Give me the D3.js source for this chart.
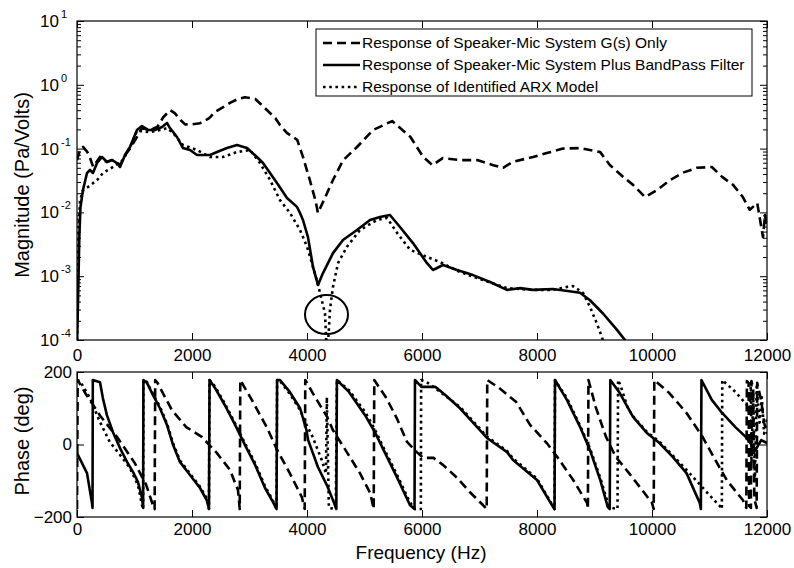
<!DOCTYPE html>
<html><head><meta charset="utf-8">
<script src="https://cdn.jsdelivr.net/npm/d3@7"></script>
<style>
body{margin:0;background:#fff}
text{font-family:"Liberation Sans",Arial,Helvetica,sans-serif;fill:#000}
</style>
</head><body>
<svg id="c" width="794" height="568"></svg>
<script>
// ---------- data ----------
const xTicks = [0, 2000, 4000, 6000, 8000, 10000, 12000];
const magExponents = [-4, -3, -2, -1, 0, 1];
const phaseTicks = [-200, 0, 200];
const legendLabels = [
  "Response of Speaker-Mic System G(s) Only",
  "Response of Speaker-Mic System Plus BandPass Filter",
  "Response of Identified ARX Model"
];
const xLabel = "Frequency (Hz)";
const magLabel = "Magnitude (Pa/Volts)";
const phaseLabel = "Phase (deg)";
const notchMark = [4339, 0.00025]; // circled notch (freq, magnitude)

// magnitude (Pa/V): [freq Hz, value]
const magG = [[0,0.066],[50,0.095],[105,0.106],[175,0.09],[230,0.07],[280,0.052],[330,0.06],[400,0.074],[435,0.066],[520,0.062],[610,0.066],[700,0.06],[750,0.055],[835,0.079],[920,0.10],[1040,0.15],[1130,0.21],[1220,0.20],[1300,0.20],[1400,0.22],[1500,0.31],[1620,0.40],[1700,0.36],[1800,0.28],[1880,0.24],[2000,0.24],[2140,0.25],[2300,0.30],[2400,0.375],[2550,0.45],[2660,0.52],[2800,0.60],[2920,0.64],[3100,0.60],[3270,0.43],[3450,0.30],[3530,0.234],[3650,0.176],[3830,0.137],[3930,0.074],[4050,0.032],[4150,0.015],[4190,0.0098],[4300,0.016],[4450,0.032],[4630,0.066],[4870,0.106],[5150,0.196],[5480,0.27],[5800,0.152],[6020,0.074],[6180,0.055],[6360,0.071],[6660,0.066],[6960,0.066],[7240,0.055],[7410,0.05],[7580,0.062],[7930,0.074],[8170,0.085],[8450,0.10],[8750,0.102],[9100,0.088],[9270,0.055],[9500,0.036],[9670,0.027],[9880,0.0174],[10090,0.0224],[10310,0.032],[10540,0.042],[10780,0.05],[11040,0.0515],[11220,0.036],[11410,0.027],[11580,0.0174],[11700,0.011],[11830,0.014],[11880,0.0076],[11930,0.0041],[11965,0.0091],[12000,0.0059]];
const magBP = [[0,0.00008],[20,0.0005],[40,0.004],[60,0.012],[104,0.0224],[174,0.0415],[226,0.0462],[278,0.0415],[348,0.0594],[435,0.0738],[522,0.0616],[609,0.0663],[696,0.0594],[748,0.0515],[835,0.0794],[922,0.106],[1043,0.196],[1130,0.226],[1235,0.196],[1356,0.196],[1478,0.218],[1565,0.252],[1617,0.21],[1739,0.152],[1843,0.102],[1965,0.095],[2087,0.0794],[2313,0.0794],[2435,0.0885],[2609,0.102],[2783,0.114],[2957,0.102],[3130,0.0738],[3235,0.0594],[3357,0.0415],[3478,0.0289],[3652,0.0168],[3826,0.0122],[3878,0.0098],[3930,0.0076],[4017,0.0041],[4104,0.0014],[4191,0.00073],[4278,0.00112],[4452,0.0023],[4626,0.0037],[4869,0.0053],[5096,0.0076],[5270,0.0085],[5443,0.0091],[5617,0.0059],[5843,0.0033],[6087,0.0016],[6191,0.00125],[6365,0.0015],[6609,0.00125],[6887,0.00104],[7183,0.00081],[7478,0.00061],[7704,0.00065],[7930,0.00061],[8278,0.00063],[8626,0.00057],[8748,0.00055],[8922,0.00042],[9148,0.00026],[9391,0.000144],[9530,0.0001],[9700,0.00006]];
const magARX = [[0,0.00008],[15,0.001],[30,0.006],[52,0.015],[100,0.022],[191,0.025],[348,0.032],[452,0.0415],[626,0.0515],[800,0.0663],[956,0.122],[1043,0.19],[1270,0.182],[1443,0.196],[1565,0.21],[1670,0.176],[1843,0.114],[2087,0.095],[2313,0.0738],[2539,0.0738],[2783,0.0885],[3009,0.095],[3183,0.0594],[3357,0.0322],[3530,0.0156],[3704,0.0098],[3878,0.0053],[3930,0.0041],[4000,0.0029],[4139,0.0011],[4226,0.00055],[4313,0.00026],[4350,0.00005],[4400,0.0003],[4452,0.00068],[4539,0.0016],[4696,0.0029],[4922,0.0053],[5217,0.0076],[5391,0.0082],[5565,0.0048],[5791,0.0026],[6087,0.002],[6313,0.00167],[6661,0.00116],[7061,0.00087],[7478,0.00065],[7930,0.00061],[8278,0.00061],[8522,0.00068],[8626,0.0007],[8800,0.00055],[8922,0.00033],[9043,0.00018],[9130,0.00011],[9250,0.00005]];

// phase (deg): [freq Hz, value]
const phaseG = [[0,-178],[12,178],[150,140],[400,80],[700,20],[1000,-50],[1200,-110],[1330,-172],[1350,-178],[1360,178],[1400,170],[1650,95],[1900,48],[2170,21],[2430,-23],[2660,-70],[2800,-126],[2830,-178],[2840,178],[3040,123],[3300,48],[3480,-15],[3700,-79],[3910,-145],[3960,-178],[3970,178],[4100,142],[4350,76],[4450,40],[4700,-23],[4920,-79],[5100,-134],[5160,-178],[5170,178],[5380,128],[5560,73],[5740,7],[5910,-21],[6020,-37],[6200,-37],[6370,-57],[6610,-92],[6830,-131],[7060,-167],[7125,-178],[7135,178],[7340,156],[7640,117],[7880,54],[8170,4],[8350,-34],[8630,-98],[8870,-161],[8885,-178],[8895,178],[9020,104],[9200,21],[9370,-34],[9600,-79],[9830,-126],[10000,-161],[10030,-178],[10040,178],[10300,142],[10600,87],[10880,21],[11130,-51],[11300,-98],[11480,-134],[11580,-153],[11640,-175],[11650,175],[11680,170],[11690,-170],[11720,-175],[11730,175],[11760,150],[11780,-150],[11820,-175],[11830,170],[11900,120],[11950,60],[12000,30]];
const phaseBP = [[0,-24],[174,-79],[260,-161],[270,-175],[275,178],[400,172],[450,128],[520,81],[626,34],[748,-10],[870,-48],[975,-76],[1060,-103],[1130,-147],[1150,-175],[1155,178],[1217,170],[1320,137],[1443,100],[1565,54],[1670,-1],[1790,-48],[1965,-84],[2139,-120],[2260,-155],[2295,-178],[2305,178],[2400,156],[2570,109],[2750,54],[2920,-1],[3100,-57],[3270,-120],[3409,-159],[3470,-178],[3480,178],[3530,178],[3700,145],[3880,100],[3990,40],[4020,12],[4190,-62],[4360,-117],[4470,-161],[4510,-178],[4520,178],[4730,145],[5010,81],[5180,34],[5350,-21],[5570,-92],[5790,-167],[5870,-178],[5878,178],[5990,159],[6230,159],[6400,137],[6660,100],[6880,62],[7130,18],[7480,-21],[7583,-43],[8000,-98],[8278,-172],[8305,-178],[8313,178],[8520,123],[8750,48],[8920,-15],[9100,-98],[9230,-172],[9265,-178],[9275,178],[9440,142],[9670,76],[9910,32],[10130,4],[10360,-34],[10600,-79],[10830,-161],[10850,-178],[10860,178],[11040,123],[11220,87],[11450,48],[11630,21],[11800,-15],[11900,12],[12000,4]];
const phaseARX = [[0,178],[52,175],[226,128],[400,62],[570,7],[750,-29],[920,-65],[1060,-112],[1130,-167],[1150,-178],[1155,178],[1217,172],[1320,140],[1443,104],[1565,58],[1670,4],[1790,-44],[1965,-80],[2139,-116],[2260,-150],[2295,-178],[2305,178],[2400,160],[2570,113],[2750,58],[2920,4],[3100,-52],[3270,-115],[3409,-155],[3470,-178],[3480,178],[3530,175],[3700,140],[3880,95],[3990,55],[4100,20],[4250,-40],[4330,-80],[4345,130],[4380,-175],[4500,-178],[4520,178],[4730,150],[5010,90],[5180,42],[5350,-15],[5570,-85],[5790,-160],[5880,-178],[5980,-178],[5985,178],[6100,170],[6230,155],[6400,135],[6660,104],[6880,66],[7130,22],[7480,-18],[7583,-38],[8000,-94],[8278,-170],[8305,-178],[8313,178],[8520,128],[8750,52],[8920,-10],[9100,-92],[9230,-160],[9300,-175],[9400,-178],[9410,178],[9450,164],[9580,100],[9670,78],[9910,35],[10130,8],[10360,-30],[10600,-70],[10830,-110],[11000,-140],[11180,-170],[11215,-178],[11222,178],[11450,145],[11650,109],[11700,100],[11720,170],[11730,-50],[11760,140],[11790,-100],[11820,160],[11870,60],[11910,130],[11950,30],[12000,70]];

// ---------- layout ----------
const svg = d3.select("#c");
const L = 77, R = 767, mT = 21, mB = 340, pT = 372, pB = 517;
const FS = 17;

const x = d3.scaleLinear().domain([0, 12000]).range([L, R]);
const yM = d3.scaleLog().domain([1e-4, 10]).range([mB, mT]);
const yP = d3.scaleLinear().domain([-200, 200]).range([pB, pT]);

const styles = [
  {dash: "9,5", w: 2.6},
  {dash: null, w: 2.6},
  {dash: "2.6,3.6", w: 2.6}
];

const defs = svg.append("defs");
defs.append("clipPath").attr("id","clipM").append("rect")
  .attr("x",L).attr("y",mT).attr("width",R-L).attr("height",mB-mT);
defs.append("clipPath").attr("id","clipP").append("rect")
  .attr("x",L).attr("y",pT).attr("width",R-L).attr("height",pB-pT);

// ---------- magnitude panel ----------
const lineM = d3.line().x(d => x(d[0])).y(d => yM(Math.max(d[1], 1e-6)));
const gM = svg.append("g").attr("clip-path","url(#clipM)");
[magG, magBP, magARX].forEach((s, i) => {
  gM.append("path").attr("d", lineM(s)).attr("fill","none").attr("stroke","#000")
    .attr("stroke-width", styles[i].w).attr("stroke-dasharray", styles[i].dash)
    .attr("stroke-linejoin","round");
});

const majors = magExponents.map(e => Math.pow(10, e));
const minors = [];
magExponents.slice(0, -1).forEach(e => { for (let k = 2; k <= 9; k++) minors.push(k * Math.pow(10, e)); });

function tickGroup(g){ g.select(".domain").remove(); g.selectAll("line").attr("stroke","#000").attr("stroke-width",1); }

svg.append("g").attr("transform",`translate(${L},0)`)
  .call(d3.axisLeft(yM).tickValues(majors).tickSizeInner(-7).tickSizeOuter(0).tickFormat("")).call(tickGroup);
svg.append("g").attr("transform",`translate(${L},0)`)
  .call(d3.axisLeft(yM).tickValues(minors).tickSizeInner(-4).tickSizeOuter(0).tickFormat("")).call(tickGroup);
svg.append("g").attr("transform",`translate(${R},0)`)
  .call(d3.axisRight(yM).tickValues(majors).tickSizeInner(-7).tickSizeOuter(0).tickFormat("")).call(tickGroup);
svg.append("g").attr("transform",`translate(${R},0)`)
  .call(d3.axisRight(yM).tickValues(minors).tickSizeInner(-4).tickSizeOuter(0).tickFormat("")).call(tickGroup);
svg.append("g").attr("transform",`translate(0,${mB})`)
  .call(d3.axisBottom(x).tickValues(xTicks).tickSizeInner(-7).tickSizeOuter(0).tickPadding(9).tickFormat(d3.format("d")))
  .call(tickGroup)
  .call(g => g.selectAll("text").attr("font-size",FS).attr("font-family",null).attr("fill","#000"));
svg.append("g").attr("transform",`translate(0,${mT})`)
  .call(d3.axisTop(x).tickValues(xTicks).tickSizeInner(-7).tickSizeOuter(0).tickFormat("")).call(tickGroup);

magExponents.forEach(e => {
  svg.append("text").attr("x", 59).attr("y", yM(Math.pow(10,e)) + 6)
    .attr("text-anchor","end").attr("font-size",FS).text("10");
  svg.append("text").attr("x", 61).attr("y", yM(Math.pow(10,e)) - 3)
    .attr("font-size",11).text(e);
});

svg.append("rect").attr("x",L).attr("y",mT).attr("width",R-L).attr("height",mB-mT)
  .attr("fill","none").attr("stroke","#000").attr("stroke-width",1.2);

svg.append("ellipse").attr("cx", x(notchMark[0])).attr("cy", yM(notchMark[1]))
  .attr("rx",21.5).attr("ry",19.5).attr("fill","none").attr("stroke","#000").attr("stroke-width",2);

// legend
const lg = svg.append("g");
lg.append("rect").attr("x",316).attr("y",29).attr("width",436).attr("height",67)
  .attr("fill","#fff").attr("stroke","#000").attr("stroke-width",1);
legendLabels.forEach((lab, i) => {
  const yy = 43 + i * 22;
  lg.append("line").attr("x1",323).attr("x2",360).attr("y1",yy).attr("y2",yy)
    .attr("stroke","#000").attr("stroke-width",styles[i].w).attr("stroke-dasharray",styles[i].dash);
  lg.append("text").attr("x",362).attr("y",yy+5).attr("font-size",15.5).text(lab);
});

svg.append("text").attr("transform","translate(29,185) rotate(-90)")
  .attr("text-anchor","middle").attr("font-size",20).text(magLabel);

// ---------- phase panel ----------
const lineP = d3.line().x(d => x(d[0])).y(d => yP(d[1]));
const gP = svg.append("g").attr("clip-path","url(#clipP)");
[phaseG, phaseBP, phaseARX].forEach((s, i) => {
  gP.append("path").attr("d", lineP(s)).attr("fill","none").attr("stroke","#000")
    .attr("stroke-width", styles[i].w).attr("stroke-dasharray", styles[i].dash)
    .attr("stroke-linejoin","round");
});

svg.append("g").attr("transform",`translate(0,${pB})`)
  .call(d3.axisBottom(x).tickValues(xTicks).tickSizeInner(-7).tickSizeOuter(0).tickPadding(6).tickFormat(d3.format("d")))
  .call(tickGroup)
  .call(g => g.selectAll("text").attr("font-size",FS).attr("font-family",null).attr("fill","#000"));
svg.append("g").attr("transform",`translate(0,${pT})`)
  .call(d3.axisTop(x).tickValues(xTicks).tickSizeInner(-7).tickSizeOuter(0).tickFormat("")).call(tickGroup);
svg.append("g").attr("transform",`translate(${L},0)`)
  .call(d3.axisLeft(yP).tickValues(phaseTicks).tickSizeInner(-7).tickSizeOuter(0).tickPadding(5).tickFormat(d3.format("d")))
  .call(tickGroup)
  .call(g => g.selectAll("text").attr("font-size",FS).attr("font-family",null).attr("fill","#000"));
svg.append("g").attr("transform",`translate(${R},0)`)
  .call(d3.axisRight(yP).tickValues(phaseTicks).tickSizeInner(-7).tickSizeOuter(0).tickFormat("")).call(tickGroup);

svg.append("rect").attr("x",L).attr("y",pT).attr("width",R-L).attr("height",pB-pT)
  .attr("fill","none").attr("stroke","#000").attr("stroke-width",1.2);

svg.append("text").attr("transform","translate(29,441) rotate(-90)")
  .attr("text-anchor","middle").attr("font-size",20).text(phaseLabel);
svg.append("text").attr("x",421).attr("y",559).attr("text-anchor","middle")
  .attr("font-size",19).text(xLabel);
</script>
</body></html>
